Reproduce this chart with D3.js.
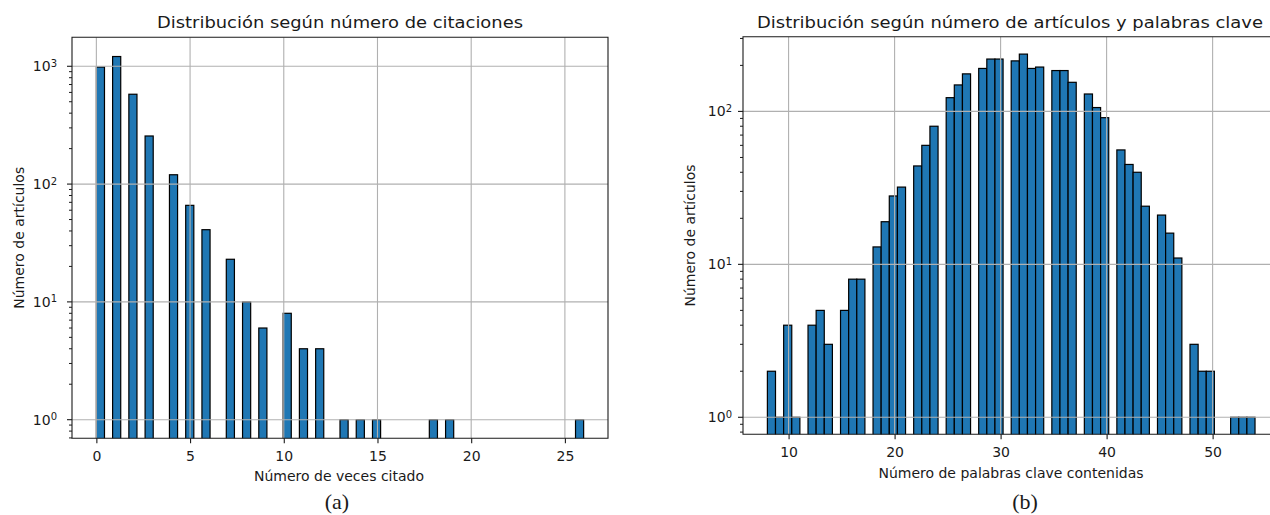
<!DOCTYPE html>
<html>
<head>
<meta charset="utf-8">
<script src="https://cdn.jsdelivr.net/npm/d3@7"></script>
<style>
  html, body { margin: 0; padding: 0; background: #ffffff; }
  svg { display: block; }
  text { font-family: "DejaVu Sans", sans-serif; fill: #1a1a1a; }
</style>
</head>
<body>
<svg id="chart" width="1270" height="515"></svg>
<script>
// Histogram (a): how many articles were cited a given number of times
const citedValues = [0, 1, 2, 3, 4, 5, 6, 7, 8, 9, 10, 11, 12, 13, 14, 15, 18, 19, 26];
const citedCounts = [985, 1210, 579, 256, 120, 66, 41, 23, 10, 6, 8, 4, 4, 1, 1, 1, 1, 1, 1];
const citedXTicks = [0, 5, 10, 15, 20, 25];
const citedYTicks = [1, 10, 100, 1000];

// Histogram (b): how many articles contain a given number of keywords
const keywordValues = [8, 9, 10, 11, 12, 13, 14, 15, 16, 17, 18, 19, 20, 21, 22, 23, 24, 25,
  26, 27, 28, 29, 30, 31, 32, 33, 34, 35, 36, 37, 38, 39, 40, 41, 42, 43, 44, 45, 46, 47,
  48, 49, 50, 52, 53, 54];
const keywordCounts = [2, 1, 4, 1, 4, 5, 3, 5, 8, 8, 13, 19, 28, 32, 44, 60, 80, 123,
  149, 176, 191, 220, 220, 214, 237, 191, 195, 185, 185, 155, 130, 106, 91, 56, 45, 40, 24, 21, 16, 11,
  3, 2, 2, 1, 1, 1];
const keywordXTicks = [10, 20, 30, 40, 50];
const keywordYTicks = [1, 10, 100];

const binCount = 60;
const barFill = "#1f77b4";

const svg = d3.select("#chart");

function drawPanel(p) {
  const { left, right, top, bottom } = p.box;
  const x = d3.scaleLinear().domain(p.xDomain).range([left, right]);
  const y = d3.scaleLog().domain(p.yDomain).range([bottom, top]);
  const g = svg.append("g");

  const clipId = "clip-" + p.id;
  svg.append("clipPath").attr("id", clipId)
    .append("rect").attr("x", left).attr("y", top)
    .attr("width", right - left).attr("height", bottom - top);

  // histogram bins: equal-width bins spanning the data extent
  const [lo, hi] = d3.extent(p.values);
  const width = (hi - lo) / binCount;
  const bars = p.values.map((v, i) => {
    const b = Math.min(binCount - 1, Math.floor((v - lo) / width + 1e-9));
    return { x0: lo + b * width, x1: lo + (b + 1) * width, count: p.counts[i] };
  });

  const plot = g.append("g").attr("clip-path", `url(#${clipId})`);
  plot.selectAll("rect.bar").data(bars).join("rect")
    .attr("class", "bar")
    .attr("x", d => x(d.x0))
    .attr("width", d => x(d.x1) - x(d.x0))
    .attr("y", d => y(d.count))
    .attr("height", d => bottom + 3 - y(d.count))
    .attr("fill", barFill)
    .attr("stroke", "#000")
    .attr("stroke-width", 1.2);

  // grid lines sit above the bars
  const grid = g.append("g").attr("clip-path", `url(#${clipId})`)
    .attr("stroke", "#b0b0b0").attr("stroke-width", 1.1);
  grid.selectAll("line.gx").data(p.xTicks).join("line")
    .attr("x1", d => x(d)).attr("x2", d => x(d)).attr("y1", top).attr("y2", bottom);
  grid.selectAll("line.gy").data(p.yTicks).join("line")
    .attr("x1", left).attr("x2", right).attr("y1", d => y(d)).attr("y2", d => y(d));

  // spines
  const spines = g.append("g").attr("stroke", "#1a1a1a").attr("stroke-width", 1.1).attr("fill", "none");
  spines.append("path").attr("d", `M${left},${top}H${right}V${bottom}H${left}Z`);

  // x axis ticks and labels
  const xAxis = d3.axisBottom(x).tickValues(p.xTicks).tickSize(5).tickPadding(4).tickFormat(d3.format("d"));
  const gx = g.append("g").attr("transform", `translate(0,${bottom})`).call(xAxis);
  gx.select(".domain").remove();
  gx.selectAll(".tick line").attr("stroke", "#1a1a1a").attr("stroke-width", 1.1);
  gx.selectAll(".tick text").attr("font-size", 14).attr("fill", "#1a1a1a")
    .attr("font-family", "DejaVu Sans").attr("dy", "0.95em");

  // y axis: major ticks with 10^n labels and minor ticks in between
  const [ymin, ymax] = p.yDomain;
  const minor = [];
  for (let e = Math.floor(Math.log10(ymin)); e <= Math.ceil(Math.log10(ymax)); e++) {
    for (let m = 2; m <= 9; m++) {
      const v = m * Math.pow(10, e);
      if (v >= ymin && v <= ymax) minor.push(v);
    }
  }
  const ticks = g.append("g").attr("stroke", "#1a1a1a").attr("stroke-width", 1);
  ticks.selectAll("line.minor").data(minor).join("line")
    .attr("x1", left - 3).attr("x2", left).attr("y1", d => y(d)).attr("y2", d => y(d));
  ticks.selectAll("line.major").data(p.yTicks).join("line")
    .attr("stroke-width", 1.1)
    .attr("x1", left - 5).attr("x2", left).attr("y1", d => y(d)).attr("y2", d => y(d));

  const ylab = g.selectAll("text.ylab").data(p.yTicks).join("text")
    .attr("class", "ylab")
    .attr("text-anchor", "end")
    .attr("x", left - p.yLabelGap)
    .attr("y", d => y(d) + 5)
    .attr("font-size", 14);
  ylab.append("tspan").text("10");
  ylab.append("tspan").attr("dy", "-0.45em").attr("font-size", 10)
    .text(d => String(Math.round(Math.log10(d))));

  // title and axis titles
  g.append("text").attr("x", p.titleX).attr("y", 28.3)
    .attr("text-anchor", "middle").attr("font-size", 16)
    .attr("textLength", p.titleLength).attr("lengthAdjust", "spacingAndGlyphs")
    .text(p.title);
  g.append("text").attr("x", p.xLabelX).attr("y", p.xLabelY)
    .attr("text-anchor", "middle").attr("font-size", 14)
    .text(p.xLabel);
  g.append("text")
    .attr("transform", `translate(${left - 48},${(top + bottom) / 2}) rotate(-90)`)
    .attr("text-anchor", "middle").attr("font-size", 14)
    .text(p.yLabel);
  g.append("text").attr("x", p.tagX).attr("y", 509)
    .attr("text-anchor", "middle").attr("font-size", 22)
    .style("font-family", "'Liberation Serif', 'Times New Roman', serif")
    .text(p.tag);
}

drawPanel({
  id: "a",
  box: { left: 72, right: 608, top: 37.3, bottom: 438.3 },
  xDomain: [-1.3, 27.3],
  yDomain: [0.695, 1762],
  values: citedValues, counts: citedCounts,
  xTicks: citedXTicks, yTicks: citedYTicks,
  yLabelGap: 15,
  title: "Distribución según número de citaciones", titleX: 340, titleLength: 366,
  xLabel: "Número de veces citado", xLabelX: 339, xLabelY: 481,
  yLabel: "Número de artículos",
  tag: "(a)", tagX: 337
});

drawPanel({
  id: "b",
  box: { left: 743, right: 1279.4, top: 36.7, bottom: 434.3 },
  xDomain: [5.7, 56.3],
  yDomain: [0.774, 308],
  values: keywordValues, counts: keywordCounts,
  xTicks: keywordXTicks, yTicks: keywordYTicks,
  yLabelGap: 11,
  title: "Distribución según número de artículos y palabras clave", titleX: 1010, titleLength: 506,
  xLabel: "Número de palabras clave contenidas", xLabelX: 1011, xLabelY: 477.5,
  yLabel: "Número de artículos",
  tag: "(b)", tagX: 1025
});
</script>
</body>
</html>
